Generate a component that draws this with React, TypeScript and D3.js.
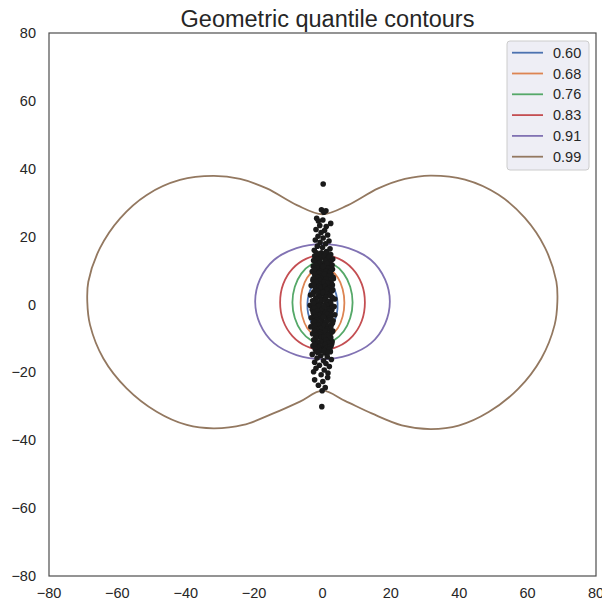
import * as d3 from 'd3';

const W = 602;
const H = 603;
const margin = { left: 49, right: 6, top: 33, bottom: 27 };

const xTicks = [-80, -60, -40, -20, 0, 20, 40, 60, 80];
const yTicks = [-80, -60, -40, -20, 0, 20, 40, 60, 80];

const levels = ['0.60', '0.68', '0.76', '0.83', '0.91', '0.99'];
const colors = ['#4C72B0', '#DD8452', '#55A868', '#C44E52', '#8172B3', '#937860'];

// contour points [x, y], clockwise from the top
const q60: [number, number][] = [
  [0, 8.5], [1.6, 7.4], [3.0, 5.5], [4.0, 3.0], [4.4, 0.3], [4.2, -2.6], [3.3, -5.2], [1.9, -7.3],
  [0, -8.5], [-1.9, -7.3], [-3.3, -5.2], [-4.2, -2.6], [-4.4, 0.3], [-4.0, 3.0], [-3.0, 5.5], [-1.6, 7.4],
];
const q68: [number, number][] = [
  [0, 11.0], [2.2, 10.2], [4.5, 7.9], [5.9, 4.5], [6.4, 0.5], [5.9, -3.5], [4.5, -6.9], [2.2, -9.2],
  [0, -10.0], [-2.2, -9.2], [-4.5, -6.9], [-5.9, -3.5], [-6.4, 0.5], [-5.9, 4.5], [-4.5, 7.9], [-2.2, 10.2],
];
const q76: [number, number][] = [
  [0, 12.6], [3.4, 11.7], [6.2, 9.1], [8.1, 5.2], [8.8, 0.6], [8.1, -4.0], [6.2, -7.9], [3.4, -10.5],
  [0, -11.4], [-3.4, -10.5], [-6.2, -7.9], [-8.1, -4.0], [-8.8, 0.6], [-8.1, 5.2], [-6.2, 9.1], [-3.4, 11.7],
];
const q83: [number, number][] = [
  [0, 14.6], [4.7, 13.5], [8.8, 10.5], [11.5, 6.0], [12.4, 0.6], [11.5, -4.8], [8.8, -9.3], [4.7, -12.3],
  [0, -13.4], [-4.7, -12.3], [-8.8, -9.3], [-11.5, -4.8], [-12.4, 0.6], [-11.5, 6.0], [-8.8, 10.5], [-4.7, 13.5],
];
const q91: [number, number][] = [
  [0, 17.8], [7.6, 16.6], [14.2, 13.1], [18.3, 7.4], [19.7, 0.85], [18.3, -5.7], [14.2, -11.4], [7.6, -14.9],
  [0, -16.1], [-7.6, -14.9], [-14.2, -11.4], [-18.3, -5.7], [-19.7, 0.85], [-18.3, 7.4], [-14.2, 13.1], [-7.6, 16.6],
];
const q99: [number, number][] = [
  [0, 26.6], [7.5, 29.3], [16.3, 34.2], [24.1, 37.0], [31.5, 38.0], [41.7, 36.8], [51.4, 32.4], [59.2, 25.5],
  [65.1, 16.7], [68.4, 6.8], [68.7, 0.8], [67.9, -6.0], [64.0, -15.9], [57.3, -24.8], [48.6, -31.7], [39.8, -35.7],
  [31.6, -36.7], [23.2, -35.6], [14.4, -32.1], [6.6, -28.4], [0, -25.4],
  [-6.6, -28.6], [-14.4, -32.1], [-23.2, -35.5], [-31.9, -36.5], [-39.7, -35.5], [-48.5, -31.6], [-57.3, -24.7],
  [-64.1, -15.9], [-68.0, -6.0], [-68.8, 0.8], [-68.5, 6.7], [-65.1, 16.6], [-59.2, 25.4], [-51.4, 32.3],
  [-41.7, 36.7], [-31.9, 37.9], [-24.1, 37.0], [-16.3, 34.2], [-7.5, 29.3],
];
const contours = [q60, q68, q76, q83, q91, q99];

// sample points: scattered tails and edges
const sampleX = [
  0.2, -0.3, 1.0, 0.4, 2.4, -1.7, -1.2, 0.1, -0.8, 1.1, -1.9, 0.6, -0.4, 1.5, -1.3, 0.2, -2.1, 1.9, -0.7, 0.9,
  -1.5, 0.0, 2.2, -2.4, 1.2, -0.3, -1.1, 1.7, 0.5, -2.0, 2.6, -0.9, 0.8,
  -1.6, 0.1, 1.9, -2.7, -0.5, 1.2, 2.9, -1.8, 0.4, -3.0, -1.0, 1.7, 0.0, 2.5, -2.2,
  -0.6, 1.0, -1.6, 3.2, 0.3, -2.8, 1.9, -0.2, -1.3, 2.6, 0.8, -3.3, -2.0, 1.4,
  -0.7, 0.4, 3.0, -1.5, 2.1, -2.6, -0.1, 1.1, -3.5, -1.0, 0.7, 2.8, -1.9, 3.6, 0.0, -2.9, 1.6,
  -0.6, 2.3, -1.4, 0.9, -3.6, -2.2, 3.4, 0.2, 1.8, -0.9, -3.0, 2.7, -1.6, 0.5, -0.2, 1.3, -2.5, 3.6,
  -1.1, 0.8, 2.2, -3.3, -0.4, 1.6, -1.9, 3.1, 0.1, -2.7, 1.0, -0.8, 2.5, -1.5, -3.4, 0.6,
  1.9, -0.3, -2.2, 3.0, 0.9, -1.2, -2.9, 0.2, 1.6, -0.7, 2.4, -1.8, 0.7, -2.5, -0.2, 1.3, -1.3, 2.7, 0.4,
  -2.8, -0.8, 1.8, 0.0, -1.9, 2.3, 0.7, -3.0, -0.5, 1.4, -1.6, 2.6, 0.3, -2.3, 1.0, -0.9, 2.0, -1.9, 0.5, -2.6,
  1.6, -0.4, -2.3, 0.1, 1.5, -1.2, -0.1, 0.8, -0.2,
];
const sampleY = [
  35.5, 27.9, 27.6, 27.2, 23.9, 25.4, 24.6, 24.9, 23.3, 23.0, 22.1, 21.8, 21.2, 20.5, 20.1, 19.6, 19.0, 18.7, 18.3, 17.9,
  17.2, 16.8, 16.4, 16.0, 15.6, 15.2, 14.6, 14.3, 13.9, 13.5, 13.1, 12.8, 12.5,
  12.0, 11.8, 11.6, 11.3, 11.0, 10.7, 10.4, 10.2, 10.0, 9.7, 9.5, 9.3, 9.0, 8.8, 8.6,
  8.3, 8.1, 7.8, 7.6, 7.4, 7.1, 6.9, 6.6, 6.3, 6.1, 5.9, 5.6, 5.4, 5.1,
  4.8, 4.6, 4.3, 4.1, 3.8, 3.6, 3.3, 3.1, 2.8, 2.6, 2.3, 2.1, 1.8, 1.6, 1.4, 1.1, 0.9,
  0.6, 0.4, 0.2, 0.0, -0.2, -0.4, -0.6, -0.8, -1.0, -1.2, -1.5, -1.7, -1.9, -2.1, -2.4, -2.6, -2.8, -3.0,
  -3.2, -3.4, -3.7, -3.9, -4.1, -4.4, -4.6, -4.8, -5.1, -5.3, -5.6, -5.8, -6.1, -6.3, -6.6, -6.8,
  -7.1, -7.3, -7.6, -7.8, -8.1, -8.3, -8.6, -8.9, -9.1, -9.4, -9.7, -9.9, -10.2, -10.5, -10.8, -11.0, -11.3, -11.6, -11.9,
  -12.2, -12.5, -12.8, -13.2, -13.6, -13.9, -14.3, -14.7, -15.1, -15.4, -15.8, -16.2, -16.6, -17.0, -17.4, -17.9, -18.3, -18.8, -19.3, -19.8,
  -20.2, -20.7, -22.2, -22.7, -21.5, -23.8, -25.4, -24.5, -30.1,
];

// dense core of the sample, two points per row
const coreY = [
  15.2, 14.75, 14.3, 13.85, 13.4, 12.95, 12.5, 12.05, 11.6, 11.15, 10.7, 10.25, 9.8, 9.35, 8.9, 8.45, 8.0, 7.55, 7.1, 6.65,
  6.2, 5.75, 5.3, 4.85, 4.4, 3.95, 3.5, 3.05, 2.6, 2.15, 1.7, 1.25, 0.8, 0.35, -0.1, -0.55, -1.0, -1.45, -1.9, -2.35,
  -2.8, -3.25, -3.7, -4.15, -4.6, -5.05, -5.5, -5.95, -6.4, -6.85, -7.3, -7.75, -8.2, -8.65, -9.1, -9.55, -10.0, -10.45, -10.9, -11.35,
  -11.8, -12.25, -12.7, -13.15, -13.6, -14.05,
];
const coreXa = [
  -1.8, -0.9, -2.3, -0.4, -1.5, -2.6, -0.7, -1.2, -2.0, -0.2, -1.7, -2.4, -0.6, -1.0, -2.2, -0.3, -1.4, -2.7, -0.8, -1.9,
  -0.1, -2.5, -1.1, -0.5, -2.1, -1.6, -0.3, -2.8, -1.3, -0.7, -2.0, -0.4, -1.8, -2.6, -0.9, -1.2, -2.3, -0.2, -1.5, -2.7,
  -0.6, -1.0, -2.1, -0.4, -1.7, -2.5, -0.8, -1.3, -2.2, -0.1, -1.6, -2.4, -0.7, -1.1, -2.0, -0.3, -1.9, -2.6, -0.5, -1.4,
  -2.3, -0.9, -1.2, -2.1, -0.6, -1.5,
];
const coreXb = [
  1.2, 2.4, 0.5, 1.8, 3.0, 0.9, 2.1, 1.4, 2.8, 0.3, 1.6, 2.6, 1.0, 2.2, 0.6, 1.9, 3.1, 1.1, 2.5, 0.4,
  1.7, 2.9, 0.8, 2.0, 1.3, 2.7, 0.2, 1.5, 2.3, 1.0, 3.0, 0.7, 1.8, 2.4, 1.2, 0.5, 2.8, 1.6, 2.1, 0.9,
  1.4, 2.6, 0.3, 1.9, 2.2, 1.1, 2.9, 0.6, 1.7, 2.4, 1.3, 0.8, 2.7, 2.0, 1.5, 0.4, 2.3, 1.0, 2.8, 1.8,
  0.7, 2.5, 1.2, 2.1, 0.5, 1.6,
];

export default function App() {
  const x = d3.scaleLinear().domain([-80, 80]).range([margin.left, W - margin.right]);
  const y = d3.scaleLinear().domain([-80, 80]).range([H - margin.bottom, margin.top]);

  const line = d3
    .line<[number, number]>()
    .x((d) => x(d[0]))
    .y((d) => y(d[1]))
    .curve(d3.curveCatmullRomClosed.alpha(0.5));

  const points: [number, number][] = [
    ...sampleX.map((sx, i) => [sx, sampleY[i]] as [number, number]),
    ...coreY.map((cy, i) => [coreXa[i], cy] as [number, number]),
    ...coreY.map((cy, i) => [coreXb[i], cy] as [number, number]),
  ];

  const font = 'Arial, "Liberation Sans", sans-serif';
  const ink = '#262626';
  const fmt = (t: number) => String(t).replace('-', '\u2212');

  const legX = 507;
  const legY = 41;
  const rowH = 20.8;

  return (
    <svg width={W} height={H} style={{ position: 'absolute', left: 0, top: 0 }} fontFamily={font}>
      <rect x={0} y={0} width={W} height={H} fill="#ffffff" />
      <text x={(x(-80) + x(80)) / 2 + 5} y={27} textAnchor="middle" fontSize={23.5} fill={ink}>
        Geometric quantile contours
      </text>

      <g>
        {contours.map((pts, i) => (
          <path key={levels[i]} d={line(pts) ?? ''} fill="none" stroke={colors[i]} strokeWidth={1.8} />
        ))}
      </g>

      <g fill="#1a1a1a">
        {points.map((p, i) => (
          <circle key={i} cx={x(p[0])} cy={y(p[1])} r={2.8} />
        ))}
      </g>

      <rect
        x={x(-80)}
        y={y(80)}
        width={x(80) - x(-80)}
        height={y(-80) - y(80)}
        fill="none"
        stroke="#4d4d4d"
        strokeWidth={1.2}
      />

      <g fontSize={14.5} fill={ink}>
        {xTicks.map((t) => (
          <text key={'x' + t} x={x(t)} y={598} textAnchor="middle">
            {fmt(t)}
          </text>
        ))}
        {yTicks.map((t) => (
          <text key={'y' + t} x={36} y={y(t)} dy="0.35em" textAnchor="end">
            {fmt(t)}
          </text>
        ))}
      </g>

      <g>
        <rect
          x={legX}
          y={legY}
          width={82}
          height={129}
          rx={3}
          fill="#eaeaf2"
          fillOpacity={0.8}
          stroke="#cccccc"
          strokeWidth={1}
        />
        {levels.map((lv, i) => (
          <g key={lv} transform={`translate(0,${legY + 11.7 + i * rowH})`}>
            <line x1={512} x2={543} y1={0} y2={0} stroke={colors[i]} strokeWidth={1.8} />
            <text x={553} y={0} dy="0.35em" fontSize={14.5} fill={ink}>
              {lv}
            </text>
          </g>
        ))}
      </g>
    </svg>
  );
}
